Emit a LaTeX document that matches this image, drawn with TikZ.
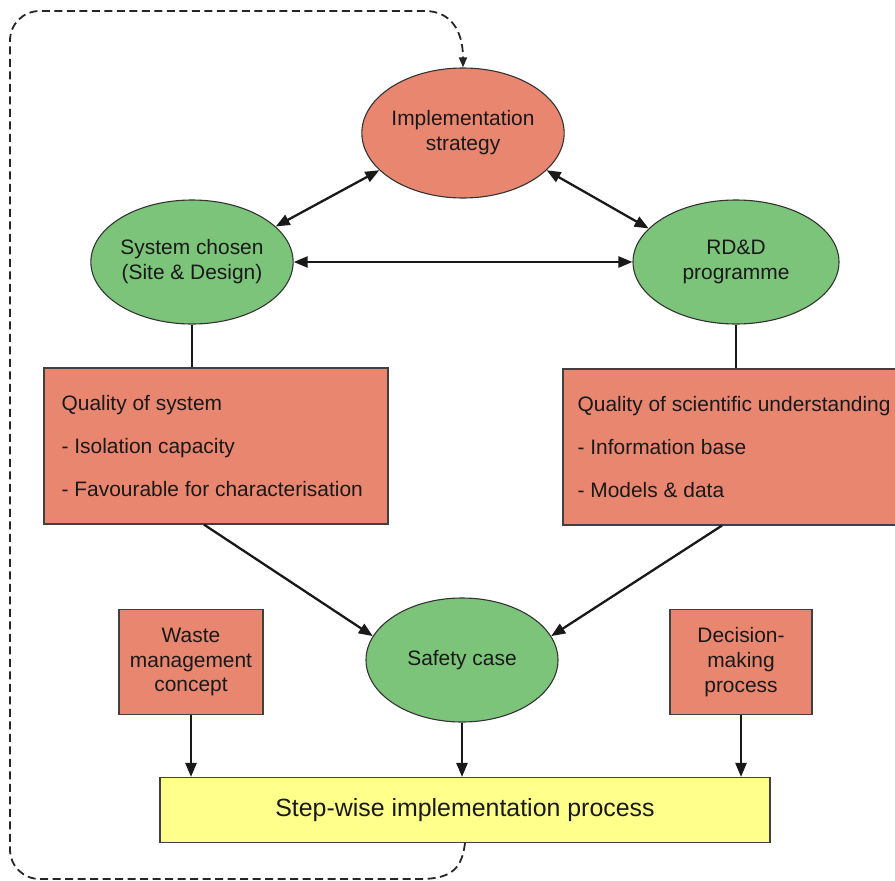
\documentclass[tikz,border=0pt]{standalone}
\usepackage{fontspec}
\setmainfont{Liberation Sans}
\usepackage{xcolor}
\usetikzlibrary{arrows.meta,calc,shapes.geometric}
\definecolor{salmon}{RGB}{233,134,112}
\definecolor{leaf}{RGB}{124,196,122}
\definecolor{pale}{RGB}{255,255,140}
\begin{document}
\begin{tikzpicture}[x=1bp,y=-1bp,font=\fontsize{21}{25}\selectfont,>={Triangle[length=14bp,width=11bp]}]
\tikzset{oval/.style={ellipse,draw=black!80,line width=1.1bp,inner sep=0pt,align=center,text=black!90},
block/.style={rectangle,draw=black!75,line width=1.1bp,fill=salmon,inner sep=0pt,align=center,text=black!90},
listtext/.style={align=left,inner sep=0pt,anchor=west,text=black!90,font=\fontsize{21}{43}\selectfont},
link/.style={line width=2.3bp,draw=black!90},
loopback/.style={line width=1.8bp,draw=black!85,dash pattern=on 8bp off 4.5bp,-{Triangle[length=10bp,width=8bp]}}}
\path[use as bounding box,clip] (0,0) rectangle (895,881);
% top ellipses
\node[oval,fill=salmon,minimum width=200bp,minimum height=130bp] (impl) at (463,133) {Implementation\\strategy};
\node[oval,fill=leaf,minimum width=200bp,minimum height=124bp] (sys) at (192,262) {System chosen\\(Site \& Design)};
\node[oval,fill=leaf,minimum width=206bp,minimum height=124bp] (rdd) at (736,262) {RD\&D\\programme};
\draw[link,<->] (sys.23)--(impl.204);
\draw[link,<->] (impl.336)--(rdd.159);
\draw[link,<->] (sys.east)--(rdd.west);
% quality boxes
\node[block,minimum width=344bp,minimum height=156bp] (qsys) at (216,446) {};
\node[listtext] (qsystext) at ([xshift=18bp]qsys.west)
 {Quality of system\\- Isolation capacity\\- Favourable for characterisation};
\node[block,minimum width=342bp,minimum height=156bp] (qsci) at (734,447) {};
\node[listtext] (qscitext) at ([xshift=15bp]qsci.west)
 {Quality of scientific understanding\\- Information base\\- Models \& data};
\draw[link] (sys.south)--(sys.south |- qsys.north);
\draw[link] (rdd.south)--(rdd.south |- qsci.north);
% safety case and side boxes
\node[oval,fill=leaf,minimum width=192bp,minimum height=124bp] (safety) at (462,660) {Safety case};
\node[block,minimum width=144bp,minimum height=105bp] (waste) at (191,662) {Waste\\management\\concept};
\node[block,minimum width=142bp,minimum height=105bp] (decision) at (741,662) {Decision-\\making\\process};
\draw[link,->] ($(qsys.south west)!.465!(qsys.south east)$)--(safety.165);
\draw[link,->] ($(qsci.south west)!.465!(qsci.south east)$)--(safety.15);
% step-wise process
\node[block,fill=pale,minimum width=610bp,minimum height=65bp,font=\fontsize{25}{30}\selectfont] (step) at (465,810) {Step-wise implementation process};
\draw[link,->] (waste.south)--(waste.south |- step.north);
\draw[link,->] (safety.south)--(safety.south |- step.north);
\draw[link,->] (decision.south)--(decision.south |- step.north);
% feedback loop
\draw[loopback] (step.south) .. controls (462,868) and (452,879) .. (420,879)
 -- (40,879) .. controls (23,879) and (10,866) .. (10,849) -- (10,41)
 .. controls (10,24) and (23,11) .. (40,11) -- (425,11)
 .. controls (450,11) and (463,30) .. (impl.north);
\end{tikzpicture}
\end{document}
